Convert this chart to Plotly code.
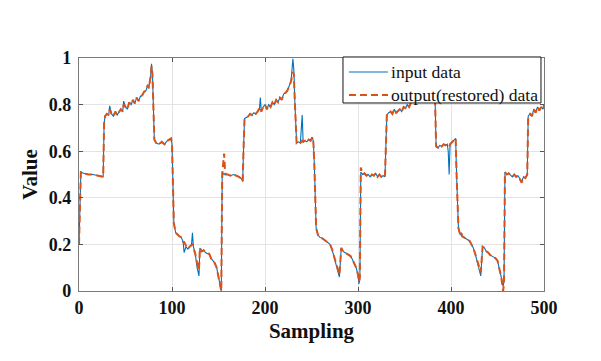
import plotly.graph_objects as go

# ---- data ----
sample_x = [0, 1, 2, 5, 10, 15, 20, 25, 26, 27, 28, 30, 32, 33, 35, 37, 39, 41, 43, 45, 47, 48,
            50, 52, 54, 56, 58, 60, 62, 64, 66, 68, 70, 72, 74, 75, 77, 78, 79, 80, 81, 83, 86,
            89, 92, 95, 98, 99, 100, 101, 102, 104, 106, 108, 110, 112, 113, 115, 117, 119, 121,
            122, 123, 125, 127, 129, 130, 132, 134, 136, 138, 140, 142, 144, 146, 148, 150, 152,
            153, 154, 155, 156, 157, 158, 160, 163, 166, 169, 172, 175, 176, 177, 178, 180, 182,
            184, 186, 188, 190, 192, 194, 195, 196, 198, 200, 202, 204, 206, 208, 210, 212, 214,
            216, 218, 220, 222, 224, 226, 228, 230, 231, 232, 233, 234, 236, 238, 240, 241, 243,
            245, 247, 249, 251, 252, 253, 254, 255, 257, 259, 262, 265, 268, 270, 272, 274, 276,
            278, 280, 282, 284, 286, 288, 290, 292, 294, 296, 298, 300, 301, 302, 303, 305, 307,
            309, 311, 313, 315, 317, 319, 321, 323, 325, 327, 329, 330, 331, 333, 335, 337, 339,
            341, 343, 345, 347, 349, 351, 353, 355, 357, 360, 363, 366, 369, 372, 375, 378, 380,
            382, 383, 384, 386, 388, 390, 392, 394, 396, 397, 398, 399, 401, 403, 405, 406, 407,
            408, 410, 411, 412, 414, 416, 418, 420, 422, 424, 426, 428, 430, 432, 434, 436, 438,
            440, 442, 444, 446, 448, 450, 452, 454, 456, 457, 458, 460, 462, 464, 466, 468, 470,
            472, 474, 476, 478, 480, 482, 483, 485, 487, 489, 491, 493, 495, 497, 499, 500]

input_data = [0.20, 0.35, 0.51, 0.505, 0.50, 0.50, 0.495, 0.49, 0.49, 0.72, 0.75, 0.76, 0.755, 0.795,
              0.76, 0.75, 0.77, 0.755, 0.765, 0.78, 0.77, 0.815,
              0.79, 0.78, 0.81, 0.80, 0.82, 0.805, 0.83, 0.815, 0.835, 0.84, 0.855, 0.86, 0.885, 0.87,
              0.92, 0.975, 0.93, 0.80, 0.65, 0.635, 0.63,
              0.64, 0.63, 0.645, 0.65, 0.655, 0.63, 0.40, 0.29, 0.25, 0.24, 0.235, 0.23, 0.21, 0.165,
              0.19, 0.18, 0.19, 0.20,
              0.25, 0.19, 0.16, 0.10, 0.065, 0.185, 0.17, 0.175, 0.165, 0.16, 0.16, 0.14, 0.13, 0.12,
              0.10, 0.06, 0.03,
              0.0, 0.51, 0.505, 0.50, 0.505, 0.50, 0.50, 0.495, 0.50, 0.495, 0.49, 0.48, 0.47, 0.62,
              0.74, 0.745, 0.75,
              0.76, 0.755, 0.765, 0.76, 0.77, 0.78, 0.83, 0.77, 0.79, 0.80, 0.78, 0.80, 0.79, 0.81,
              0.80, 0.82, 0.81,
              0.83, 0.82, 0.845, 0.85, 0.86, 0.88, 0.90, 0.997, 0.95, 0.82, 0.70, 0.635, 0.64, 0.635,
              0.755, 0.64, 0.645,
              0.64, 0.65, 0.645, 0.66, 0.64, 0.55, 0.35, 0.27, 0.24, 0.23, 0.225, 0.215, 0.205, 0.20,
              0.18, 0.15, 0.12,
              0.09, 0.06, 0.185, 0.17, 0.165, 0.16, 0.155, 0.15, 0.135, 0.12, 0.10, 0.07, 0.03, 0.05,
              0.51, 0.50, 0.505,
              0.495, 0.50, 0.49, 0.50, 0.495, 0.505, 0.49, 0.50, 0.49, 0.495, 0.49, 0.62, 0.755, 0.765,
              0.77, 0.76, 0.78,
              0.765, 0.775, 0.78, 0.77, 0.79, 0.785, 0.80, 0.79, 0.81, 0.82, 0.83, 0.84, 0.85, 0.87,
              0.88, 0.90, 0.93,
              0.95, 0.80, 0.62, 0.615, 0.625, 0.62, 0.63, 0.625, 0.63, 0.60, 0.50, 0.63, 0.64, 0.645,
              0.655, 0.50, 0.35,
              0.27, 0.24, 0.25, 0.235, 0.23, 0.225, 0.22, 0.215, 0.20, 0.185, 0.16, 0.13, 0.10, 0.065,
              0.19, 0.185, 0.17,
              0.165, 0.155, 0.15, 0.145, 0.14, 0.13, 0.10, 0.06, 0.02, 0.04, 0.51, 0.50, 0.505, 0.495,
              0.49, 0.50, 0.49,
              0.495, 0.48, 0.47, 0.49, 0.485, 0.50, 0.75, 0.76, 0.75, 0.78, 0.765, 0.79, 0.775, 0.79,
              0.78, 0.80]

# restored output: same samples, values that differ from the input
output_changes = {
    33: 0.78, 48: 0.80, 78: 0.965,
    113: 0.21, 115: 0.195, 122: 0.20, 123: 0.185, 127: 0.12, 129: 0.09,
    154: 0.50, 155: 0.57, 156: 0.59, 157: 0.52,
    195: 0.79, 230: 0.94, 231: 0.93, 240: 0.645,
    280: 0.07, 301: 0.04, 302: 0.06, 303: 0.53,
    398: 0.62, 397: 0.625, 432: 0.08, 456: 0.0, 457: 0.03, 476: 0.465,
}
output_data = [output_changes.get(x, v) for x, v in zip(sample_x, input_data)]

series_names = ["input data", "output(restored) data"]
series_colors = ["#0072BD", "#D95319"]
x_ticks = [0, 100, 200, 300, 400, 500]
y_ticks = [0, 0.2, 0.4, 0.6, 0.8, 1]
y_tick_text = ["0", "0.2", "0.4", "0.6", "0.8", "1"]

FONT = "Liberation Serif"
BLUE_LINE = dict(color=series_colors[0], width=1.1)
ORANGE_LINE = dict(color=series_colors[1], width=2, dash="7px,4px")

fig = go.Figure()
fig.add_trace(go.Scatter(x=sample_x, y=input_data, mode="lines", name=series_names[0],
                         line=BLUE_LINE, showlegend=False))
fig.add_trace(go.Scatter(x=sample_x, y=output_data, mode="lines", name=series_names[1],
                         line=ORANGE_LINE, showlegend=False))

axis_common = dict(showline=True, linecolor="#7a7a7a", linewidth=1.2, mirror="ticks",
                   ticks="inside", ticklen=4, tickcolor="#555555", showgrid=True,
                   gridcolor="#e3e3e3", gridwidth=1, zeroline=False, automargin=False,
                   tickfont=dict(family=FONT, size=18, color="#111111", weight="bold"))

fig.update_xaxes(range=[0, 500], tickvals=x_ticks,
                 title=dict(text="Sampling", font=dict(family=FONT, size=21, color="#111111", weight="bold"),
                            standoff=6),
                 **axis_common)
fig.update_yaxes(range=[0, 1], tickvals=y_ticks, ticktext=y_tick_text, ticklabelstandoff=3,
                 title=dict(text="Value", font=dict(family=FONT, size=21, color="#111111", weight="bold"),
                            standoff=5),
                 **axis_common)

# legend box drawn in paper coordinates
lx0, lx1, ly0, ly1 = 0.5677, 0.9935, 0.8069, 1.0043
rows = [0.9399, 0.8412]
shapes = [dict(type="rect", xref="paper", yref="paper", x0=lx0, x1=lx1, y0=ly0, y1=ly1,
               fillcolor="white", line=dict(color="#111111", width=1), layer="above")]
annotations = []
for name, row, ln in zip(series_names, rows, [BLUE_LINE, ORANGE_LINE]):
    shapes.append(dict(type="line", xref="paper", yref="paper", x0=0.5806, x1=0.6645, y0=row, y1=row,
                       line=ln, layer="above"))
    annotations.append(dict(xref="paper", yref="paper", x=0.6673, y=row, text=name, showarrow=False,
                            xanchor="left", yanchor="middle",
                            font=dict(family=FONT, size=17.6, color="#111111")))

# the page body adds an 8px offset, so margins are shifted to place the plot area at
# x 79-544 px, y 58-291 px of the window
fig.update_layout(
    width=601, height=361,
    margin=dict(l=71, r=65, t=50, b=78),
    paper_bgcolor="white", plot_bgcolor="white",
    showlegend=False,
    shapes=shapes,
    annotations=annotations,
)

fig.write_html("out.html")
